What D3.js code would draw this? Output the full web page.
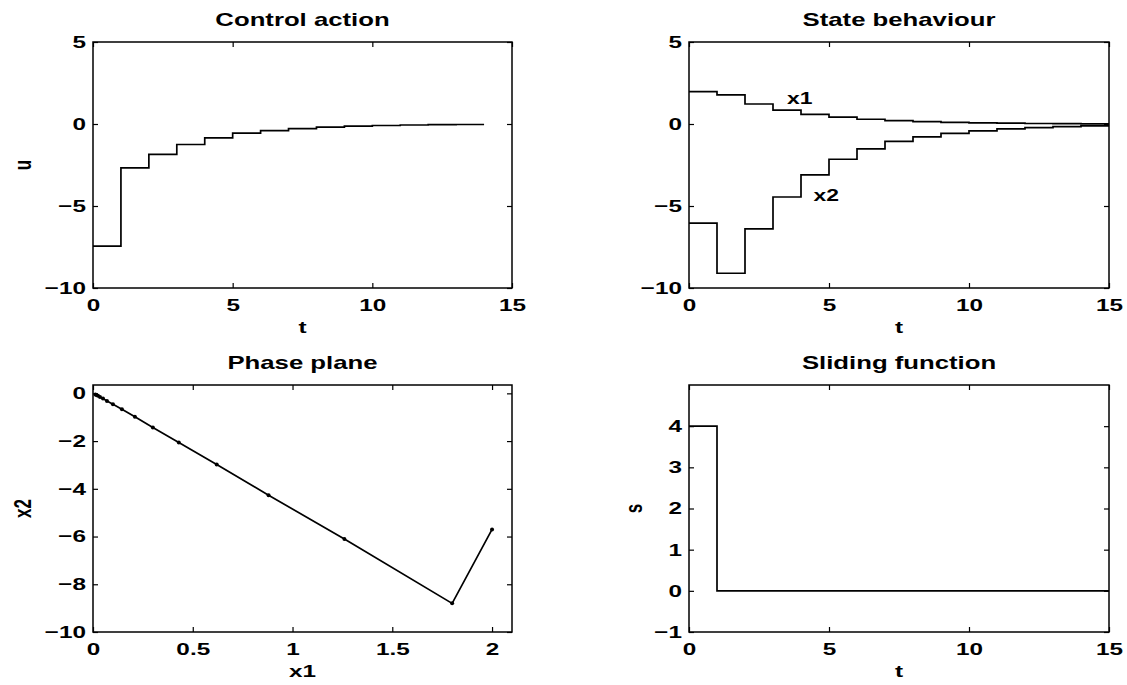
<!DOCTYPE html>
<html>
<head>
<meta charset="utf-8">
<script src="https://cdn.jsdelivr.net/npm/d3@7"></script>
<style>
  body { margin: 0; background: #fff; }
  svg text { font-family: "Liberation Sans", Arial, Helvetica, sans-serif; font-weight: bold; fill: #000; }
</style>
</head>
<body>
<script>
// sample instants (controller holds each value for one period)
const uTime = [0, 1, 2, 3, 4, 5, 6, 7, 8, 9, 10, 11, 12, 13, 14];
const uVals = [-7.45, -2.68, -1.85, -1.25, -0.84, -0.56, -0.4, -0.28, -0.19, -0.13, -0.09, -0.06, -0.04, -0.03, -0.03];

const xTime = [0, 1, 2, 3, 4, 5, 6, 7, 8, 9, 10, 11, 12, 13, 14, 15];
const x1Vals = [1.97, 1.77, 1.22, 0.85, 0.59, 0.42, 0.29, 0.2, 0.14, 0.1, 0.07, 0.05, 0.03, 0.02, 0.01, 0.01];
const x2Vals = [-6.05, -9.1, -6.4, -4.45, -3.1, -2.15, -1.52, -1.06, -0.78, -0.57, -0.42, -0.3, -0.22, -0.16, -0.12, -0.12];

// phase plane samples (x1, x2)
const phaseX1 = [2, 1.8, 1.26, 0.88, 0.62, 0.43, 0.3, 0.21, 0.145, 0.1, 0.07, 0.05, 0.035, 0.025, 0.017, 0.012];
const phaseX2 = [-5.7, -8.8, -6.1, -4.27, -2.98, -2.06, -1.43, -0.98, -0.67, -0.46, -0.32, -0.22, -0.15, -0.1, -0.07, -0.05];

const sVals = [4, 0, 0, 0, 0, 0, 0, 0, 0, 0, 0, 0, 0, 0, 0, 0];

const tTicks = [0, 5, 10, 15];
const uTicks = [-10, -5, 0, 5];
const phaseXTicks = [0, 0.5, 1, 1.5, 2];
const phaseYTicks = [-10, -8, -6, -4, -2, 0];
const sTicks = [-1, 0, 1, 2, 3, 4];

const width = 1127;
const height = 685;
const SX = 1.43;      // text in the scan is stretched sideways
const TICK = 5;

const svg = d3.select("body").append("svg")
  .attr("width", width)
  .attr("height", height);

const fmt = d3.format("");

function stretchText(sel, size) {
  sel.style("font-size", size + "px");
}

function panel(c) {
  const x = d3.scaleLinear().domain(c.xDomain).range([c.left, c.right]);
  const y = d3.scaleLinear().domain(c.yDomain).range([c.bottom, c.top]);
  const g = svg.append("g");

  const xb = d3.axisBottom(x).tickValues(c.xTicks).tickSizeInner(-TICK).tickSizeOuter(0).tickPadding(11).tickFormat(fmt);
  const xt = d3.axisTop(x).tickValues(c.xTicks).tickSizeInner(-TICK).tickSizeOuter(0).tickFormat("");
  const yl = d3.axisLeft(y).tickValues(c.yTicks).tickSizeInner(-TICK).tickSizeOuter(0).tickPadding(7).tickFormat(fmt);
  const yr = d3.axisRight(y).tickValues(c.yTicks).tickSizeInner(-TICK).tickSizeOuter(0).tickFormat("");

  const gxb = g.append("g").attr("transform", `translate(0,${c.bottom})`).call(xb);
  g.append("g").attr("transform", `translate(0,${c.top})`).call(xt);
  const gyl = g.append("g").attr("transform", `translate(${c.left},0)`).call(yl);
  g.append("g").attr("transform", `translate(${c.right},0)`).call(yr);

  g.selectAll(".domain").remove();
  g.selectAll(".tick line").attr("stroke", "#000").attr("stroke-width", 1.2);
  g.selectAll(".tick text").attr("font-family", null).attr("font-size", null).style("font-size", "17px");
  gxb.selectAll(".tick text").attr("transform", `scale(${SX},1)`);
  gyl.selectAll(".tick text").attr("x", -7 / SX).attr("transform", `scale(${SX},1)`);

  g.append("rect")
    .attr("x", c.left).attr("y", c.top)
    .attr("width", c.right - c.left).attr("height", c.bottom - c.top)
    .attr("fill", "none").attr("stroke", "#000").attr("stroke-width", 1.5);

  const cx = (c.left + c.right) / 2;
  g.append("text")
    .attr("transform", `translate(${cx},${c.top - 16}) scale(${SX},1)`)
    .attr("text-anchor", "middle").style("font-size", "18px")
    .text(c.title);
  g.append("text")
    .attr("transform", `translate(${cx},${c.bottom + 45}) scale(${SX},1)`)
    .attr("text-anchor", "middle").style("font-size", "17px")
    .text(c.xLabel);
  if (c.yLabel) {
    g.append("text")
      .attr("transform", `translate(${c.yLabelX},${(c.top + c.bottom) / 2}) scale(${SX},1) rotate(-90)`)
      .attr("text-anchor", "middle").style("font-size", "17px")
      .text(c.yLabel);
  }
  return { g, x, y };
}

const stepLine = (p, ys, xs) => d3.line()
  .x((d, i) => p.x(xs[i]))
  .y((d) => p.y(d))
  .curve(d3.curveStepAfter)(ys);

function drawPath(p, dstr) {
  p.g.append("path").attr("d", dstr)
    .attr("fill", "none").attr("stroke", "#000").attr("stroke-width", 1.7)
    .attr("stroke-linejoin", "miter");
}

const rowTop = [42, 385];
const rowBottom = [288, 632];
const colLeft = [93, 689];
const colRight = [512, 1109];

// Control action
const p1 = panel({
  left: colLeft[0], right: colRight[0], top: rowTop[0], bottom: rowBottom[0],
  xDomain: [0, 15], yDomain: [-10, 5], xTicks: tTicks, yTicks: uTicks,
  title: "Control action", xLabel: "t", yLabel: "u", yLabelX: 31
});
drawPath(p1, stepLine(p1, uVals, uTime));

// State behaviour
const p2 = panel({
  left: colLeft[1], right: colRight[1], top: rowTop[0], bottom: rowBottom[0],
  xDomain: [0, 15], yDomain: [-10, 5], xTicks: tTicks, yTicks: uTicks,
  title: "State behaviour", xLabel: "t"
});
drawPath(p2, stepLine(p2, x1Vals, xTime));
drawPath(p2, stepLine(p2, x2Vals, xTime));

const stateNotes = [
  { name: "x1", t: 3.5, v: 1.2 },
  { name: "x2", t: 4.45, v: -4.7 }
];
stateNotes.forEach((n) => {
  p2.g.append("text")
    .attr("transform", `translate(${p2.x(n.t)},${p2.y(n.v)}) scale(${SX},1)`)
    .style("font-size", "16px")
    .text(n.name);
});

// Phase plane
const p3 = panel({
  left: colLeft[0], right: colRight[0], top: rowTop[1], bottom: rowBottom[1],
  xDomain: [0, 2.1], yDomain: [-10, 0.35], xTicks: phaseXTicks, yTicks: phaseYTicks,
  title: "Phase plane", xLabel: "x1", yLabel: "x2", yLabelX: 31
});
const phaseLine = d3.line()
  .x((d, i) => p3.x(phaseX1[i]))
  .y((d) => p3.y(d));
drawPath(p3, phaseLine(phaseX2));
p3.g.selectAll("circle")
  .data(phaseX2)
  .enter()
  .append("circle")
  .attr("cx", (d, i) => p3.x(phaseX1[i]))
  .attr("cy", (d) => p3.y(d))
  .attr("r", 2)
  .attr("fill", "#000");

// Sliding function
const p4 = panel({
  left: colLeft[1], right: colRight[1], top: rowTop[1], bottom: rowBottom[1],
  xDomain: [0, 15], yDomain: [-1, 5], xTicks: tTicks, yTicks: sTicks,
  title: "Sliding function", xLabel: "t", yLabel: "s", yLabelX: 642
});
drawPath(p4, stepLine(p4, sVals, xTime));
</script>
</body>
</html>
